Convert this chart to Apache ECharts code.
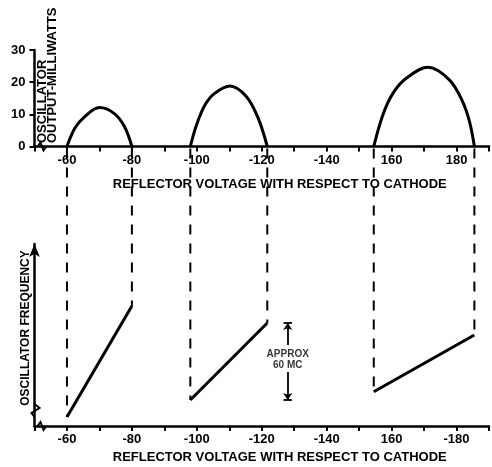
<!DOCTYPE html>
<html>
<head>
<meta charset="utf-8">
<style>html,body{margin:0;padding:0;background:#fff}#c{width:492px;height:467px}</style>
</head>
<body>
<div id="c"></div>
<script src="https://cdn.jsdelivr.net/npm/echarts@6/dist/echarts.min.js"></script>
<script>
// ---- data ----
const tickValues = [-60, -80, -100, -120, -140, -160, -180];
const topTickLabels = ['-60', '-80', '-100', '-120', '-140', '160', '180'];
const bottomTickLabels = ['-60', '-80', '-100', '-120', '-140', '160', '-180'];
const powerTicks = [0, 10, 20, 30];

// oscillator output (mW) vs reflector voltage
const power1 = [[-60,0],[-62.5,5.8],[-65.5,9.3],[-70,12.1],[-74.5,10.3],[-77.7,6.2],[-80,0]];
const power2 = [[-98,0],[-99.9,6.7],[-102.5,12.9],[-105.5,16.5],[-110.2,18.8],[-115.3,15.5],[-118.9,8.8],[-121.7,0]];
const power3 = [[-154.5,0],[-157.3,9.8],[-160.4,16.5],[-164.5,21.2],[-171.2,24.6],[-177.8,20.7],[-181.9,13.9],[-184,7.7],[-185.5,0]];

// oscillator frequency (relative, MC) vs reflector voltage
const freq1 = [[-60, 7.2], [-80, 95.6]];
const freq2 = [[-98, 20.7], [-121.7, 82.1]];
const freq3 = [[-154.5, 27.3], [-185.5, 72.5]];

// "APPROX 60 MC" dimension marker
const annotX = -128;
const annotRange = [20.7, 82.1];
const annotGap = [43.0, 64.5];
const annotTextY = 52.6;

// ---- chart ----
const FONT = '"Liberation Sans", Arial, sans-serif';
const INK = '#000';
const chart = echarts.init(document.getElementById('c'));

function labelFor(labels) {
  return function (v) {
    const i = tickValues.indexOf(Math.round(v));
    return i < 0 ? '' : labels[i];
  };
}
const TITLE = 'REFLECTOR VOLTAGE WITH RESPECT TO CATHODE';

function xAxisDef(idx, labels, margin, gap) {
  return {
    type: 'value', gridIndex: idx, min: -190, max: -50, interval: 10, inverse: true,
    axisLine: { show: true, onZero: false, lineStyle: { color: INK, width: 2.5 } },
    axisTick: { show: true, length: 5, lineStyle: { color: INK, width: 2 } },
    axisLabel: { formatter: labelFor(labels), color: INK, fontFamily: FONT, fontWeight: 'bold', fontSize: 13, margin: margin },
    splitLine: { show: false },
    name: TITLE, nameLocation: 'middle', nameGap: gap,
    nameTextStyle: { color: INK, fontFamily: FONT, fontWeight: 'bold', fontSize: 13, padding: [0, 0, 0, 36] }
  };
}

function lineSeries(data, xi, smooth) {
  return {
    type: 'line', xAxisIndex: xi, yAxisIndex: xi, data: data,
    smooth: smooth,
    showSymbol: false, symbol: 'none', silent: true,
    lineStyle: { color: INK, width: 3 }
  };
}

const option = {
  animation: false,
  backgroundColor: '#fff',
  grid: [
    { left: 34.5, right: 2.5, top: 50, height: 96.5 },
    { left: 34.5, right: 2.5, top: 244, height: 182 }
  ],
  xAxis: [
    xAxisDef(0, topTickLabels, 7, 31),
    xAxisDef(1, bottomTickLabels, 6.5, 24.5)
  ],
  yAxis: [
    {
      type: 'value', gridIndex: 0, min: 0, max: 30, interval: 10,
      axisLine: { show: true, onZero: false, lineStyle: { color: INK, width: 2.5 } },
      axisTick: { show: true, length: 5, lineStyle: { color: INK, width: 2 } },
      axisLabel: { color: INK, fontFamily: FONT, fontWeight: 'bold', fontSize: 13, margin: 9,
        formatter: v => powerTicks.indexOf(v) < 0 ? '' : String(v) },
      splitLine: { show: false }
    },
    {
      type: 'value', gridIndex: 1, min: 0, max: 145,
      axisLine: { show: true, onZero: false, symbol: ['none', 'arrow'], symbolSize: [8, 13],
        lineStyle: { color: INK, width: 2.5 } },
      axisTick: { show: false }, axisLabel: { show: false }, splitLine: { show: false },
      name: 'OSCILLATOR FREQUENCY', nameLocation: 'middle', nameGap: 3,
      nameTextStyle: { color: INK, fontFamily: FONT, fontWeight: 'bold', fontSize: 12, padding: [0, 0, 0, 14] }
    }
  ],
  series: [
    lineSeries(power1, 0, 0.35),
    lineSeries(power2, 0, 0.35),
    lineSeries(power3, 0, 0.35),
    lineSeries(freq1, 1, false),
    lineSeries(freq2, 1, false),
    lineSeries(freq3, 1, false),
    {
      type: 'scatter', xAxisIndex: 1, yAxisIndex: 1, silent: true,
      data: [[annotX, annotTextY]], symbolSize: 0,
      label: { show: true, position: 'inside', formatter: 'APPROX\n60 MC', color: INK,
        fontFamily: FONT, fontWeight: 'bold', fontSize: 10, lineHeight: 11 },
      markLine: {
        silent: true, animation: false,
        symbol: ['none', 'arrow'], symbolSize: 7,
        label: { show: false },
        lineStyle: { color: INK, width: 1.8, type: 'solid' },
        data: [
          [{ coord: [annotX, annotGap[1]] }, { coord: [annotX, annotRange[1]] }],
          [{ coord: [annotX, annotGap[0]] }, { coord: [annotX, annotRange[0]] }],
          [{ coord: [annotX + 1.3, annotRange[1]], symbol: 'none' }, { coord: [annotX - 1.3, annotRange[1]], symbol: 'none' }],
          [{ coord: [annotX + 1.3, annotRange[0]], symbol: 'none' }, { coord: [annotX - 1.3, annotRange[0]], symbol: 'none' }]
        ]
      }
    }
  ]
};
chart.setOption(option);

// dashed projection lines from the output curves down to the frequency lines
const ends = [freq1[0], freq1[1], freq2[0], freq2[1], freq3[0], freq3[1]];
const graphics = [];
ends.forEach(function (p) {
  const top = chart.convertToPixel({ xAxisIndex: 0, yAxisIndex: 0 }, [p[0], 0]);
  const bot = chart.convertToPixel({ xAxisIndex: 1, yAxisIndex: 1 }, p);
  graphics.push({
    type: 'line', silent: true,
    shape: { x1: top[0], y1: top[1] + 2, x2: bot[0], y2: bot[1] },
    style: { stroke: INK, lineWidth: 2, lineDash: [10, 9] }
  });
});
// axis break marks
const o0 = chart.convertToPixel({ xAxisIndex: 0, yAxisIndex: 0 }, [-50, 0]);
graphics.push({ type: 'polyline', silent: true,
  shape: { points: [[o0[0] + 3, o0[1]], [o0[0] + 6, o0[1] - 4], [o0[0] + 9, o0[1] + 4], [o0[0] + 12, o0[1]]] },
  style: { stroke: INK, lineWidth: 2, fill: null } });
const o1 = chart.convertToPixel({ xAxisIndex: 1, yAxisIndex: 1 }, [-50, 0]);
graphics.push({ type: 'polyline', silent: true,
  shape: { points: [[o1[0], o1[1] - 22], [o1[0] + 5, o1[1] - 18], [o1[0] - 3, o1[1] - 13], [o1[0], o1[1] - 9]] },
  style: { stroke: INK, lineWidth: 2, fill: null } });
graphics.push({ type: 'polyline', silent: true,
  shape: { points: [[o1[0] + 3, o1[1]], [o1[0] + 6, o1[1] - 4], [o1[0] + 9, o1[1] + 4], [o1[0] + 12, o1[1]]] },
  style: { stroke: INK, lineWidth: 2, fill: null } });
// top y-axis name (two lines, reading upward from the baseline)
graphics.push({ type: 'text', silent: true, x: 47.5, y: 143, rotation: Math.PI / 2,
  style: { text: 'OSCILLATOR\nOUTPUT-MILLIWATTS', fill: INK, font: 'bold 13px ' + FONT,
    align: 'left', verticalAlign: 'middle', lineHeight: 10 } });
chart.setOption({ graphic: graphics });
</script>
</body>
</html>
